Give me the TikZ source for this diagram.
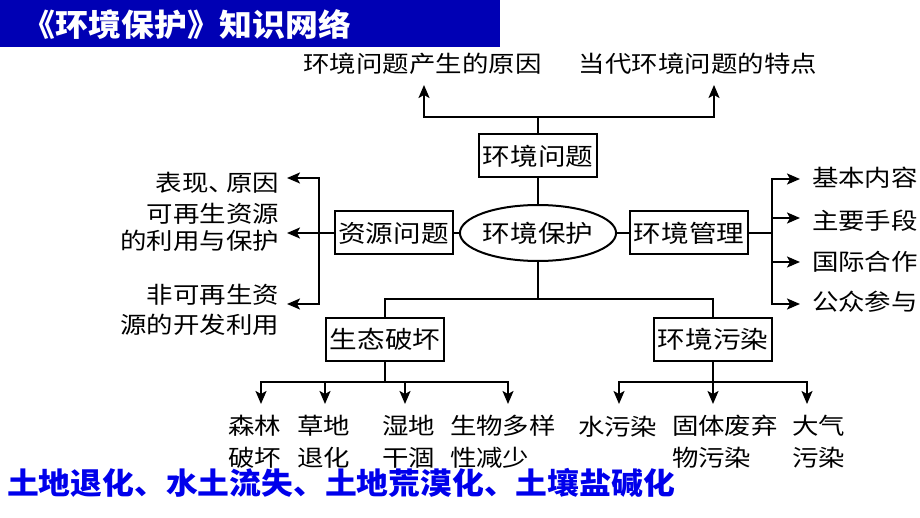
\documentclass[tikz,border=0pt]{standalone}
\usepackage{fontspec}
\usetikzlibrary{arrows.meta,shapes.geometric}
\newfontfamily\cjk[FakeStretch=1.15]{Noto Sans CJK SC}
\newfontfamily\cjkb[FakeStretch=1.06]{Noto Sans CJK SC}
\definecolor{titleblue}{RGB}{0,0,180}
\definecolor{textblue}{RGB}{0,0,235}
\begin{document}
\begin{tikzpicture}[x=1pt,y=-1pt,line width=2pt,
  lbl/.style={font=\cjk\fontsize{23}{27}\selectfont, inner sep=0pt},
  lblb/.style={font=\cjk\fontsize{23}{32}\selectfont, inner sep=0pt, align=left, anchor=west},
  box/.style={draw, line width=2pt, minimum width=118pt, minimum height=43pt, inner sep=0pt, font=\cjk\fontsize{24}{26}\selectfont},
  arr/.style={-{Stealth[length=13pt,width=11pt,inset=3pt]}}]
\useasboundingbox (0,0) rectangle (920,518);
% title bar
\fill[titleblue] (0,0) rectangle (500,47);
\node[font=\cjkb\bfseries\fontsize{31}{33}\selectfont, text=white, inner sep=0pt] (title) at (187,25) {《环境保护》知识网络};
% top texts
\node[lbl] (t1) at (422.5,64) {环境问题产生的原因};
\node[lbl] (t2) at (698,64) {当代环境问题的特点};
\coordinate (a1) at (424,85);
\coordinate (a2) at (714,85);
% boxes
\node[box] (p1) at (538,156) {环境问题};
\node[draw, ellipse, line width=2pt, minimum width=141pt, minimum height=56pt, inner sep=0pt, font=\cjk\fontsize{24}{26}\selectfont] (ell) at (538,233) {环境保护};
\node[box] (zy) at (393.5,233) {资源问题};
\node[box] (gl) at (689,233) {环境管理};
\node[box] (st) at (385,339.5) {生态破坏};
\node[box] (wr) at (713,339.5) {环境污染};
% top connectors
\coordinate (tj) at (538,117);
\draw (p1.north) -- (tj);
\draw[arr] (tj) -| (a1);
\draw[arr] (tj) -| (a2);
\draw (p1.south) -- (ell.north);
\draw (ell.west) -- (zy.east);
\draw (ell.east) -- (gl.west);
% left texts
\node[lbl, anchor=east] (l1) at (280,183) {表现、\kern-0.4em原因};
\node[lbl, anchor=east, align=right] (l2) at (280,227) {可再生资源\\的利用与保护};
\node[lbl, anchor=east, align=right, font=\cjk\fontsize{23}{30}\selectfont] (l3) at (280,310) {非可再生资\\源的开发利用};
\coordinate (lj) at (319,233);
\coordinate (la1) at (287,178);
\coordinate (la2) at (287,233);
\coordinate (la3) at (287,304);
\draw[arr] (zy.west) -- (la2);
\draw[arr] (lj) |- (la1);
\draw[arr] (lj) |- (la3);
% right texts
\node[lbl, anchor=west] (r1) at (811,178) {基本内容};
\node[lbl, anchor=west] (r2) at (811,221) {主要手段};
\node[lbl, anchor=west] (r3) at (811,262) {国际合作};
\node[lbl, anchor=west] (r4) at (811,302) {公众参与};
\coordinate (rj) at (772,233);
\coordinate (ra1) at (800,179);
\coordinate (ra2) at (800,218);
\coordinate (ra3) at (800,262);
\coordinate (ra4) at (800,304);
\draw (gl.east) -- (rj);
\draw[arr] (rj) |- (ra1);
\draw[arr] (rj) |- (ra2);
\draw[arr] (rj) |- (ra3);
\draw[arr] (rj) |- (ra4);
% lower junction
\coordinate (bj) at (538,299);
\draw (ell.south) -- (bj);
\draw (bj) -| (st.north);
\draw (bj) -| (wr.north);
% ecological damage branch
\coordinate (sj) at (385,382);
\coordinate (b1) at (261,404);
\coordinate (b2) at (325,404);
\coordinate (b3) at (405,404);
\coordinate (b4) at (508,404);
\draw (st.south) -- (sj);
\draw[arr] (sj) -| (b1);
\draw[arr] (sj) -| (b2);
\draw[arr] (sj) -| (b3);
\draw[arr] (sj) -| (b4);
% pollution branch
\coordinate (wj) at (713,382);
\coordinate (c1) at (619,404);
\coordinate (c2) at (713,404);
\coordinate (c3) at (807,404);
\draw[arr] (wr.south) -- (c2);
\draw[arr] (wj) -| (c1);
\draw[arr] (wj) -| (c3);
% bottom texts
\node[lblb] (d1) at (227,442) {森林\\破坏};
\node[lblb] (d2) at (296,442) {草地\\退化};
\node[lblb] (d3) at (381,442) {湿地\\干涸};
\node[lblb] (d4) at (449,442) {生物多样\\性减少};
\node[lblb] (e1) at (577,427) {水污染};
\node[lblb] (e2) at (671,442) {固体废弃\\物污染};
\node[lblb] (e3) at (791,442) {大气\\污染};
% blue summary
\node[font=\cjkb\bfseries\fontsize{30}{33}\selectfont, text=textblue, inner sep=0pt, anchor=west] (sum) at (6,483) {土地退化、水土流失、土地荒漠化、土壤盐碱化};
\end{tikzpicture}
\end{document}
